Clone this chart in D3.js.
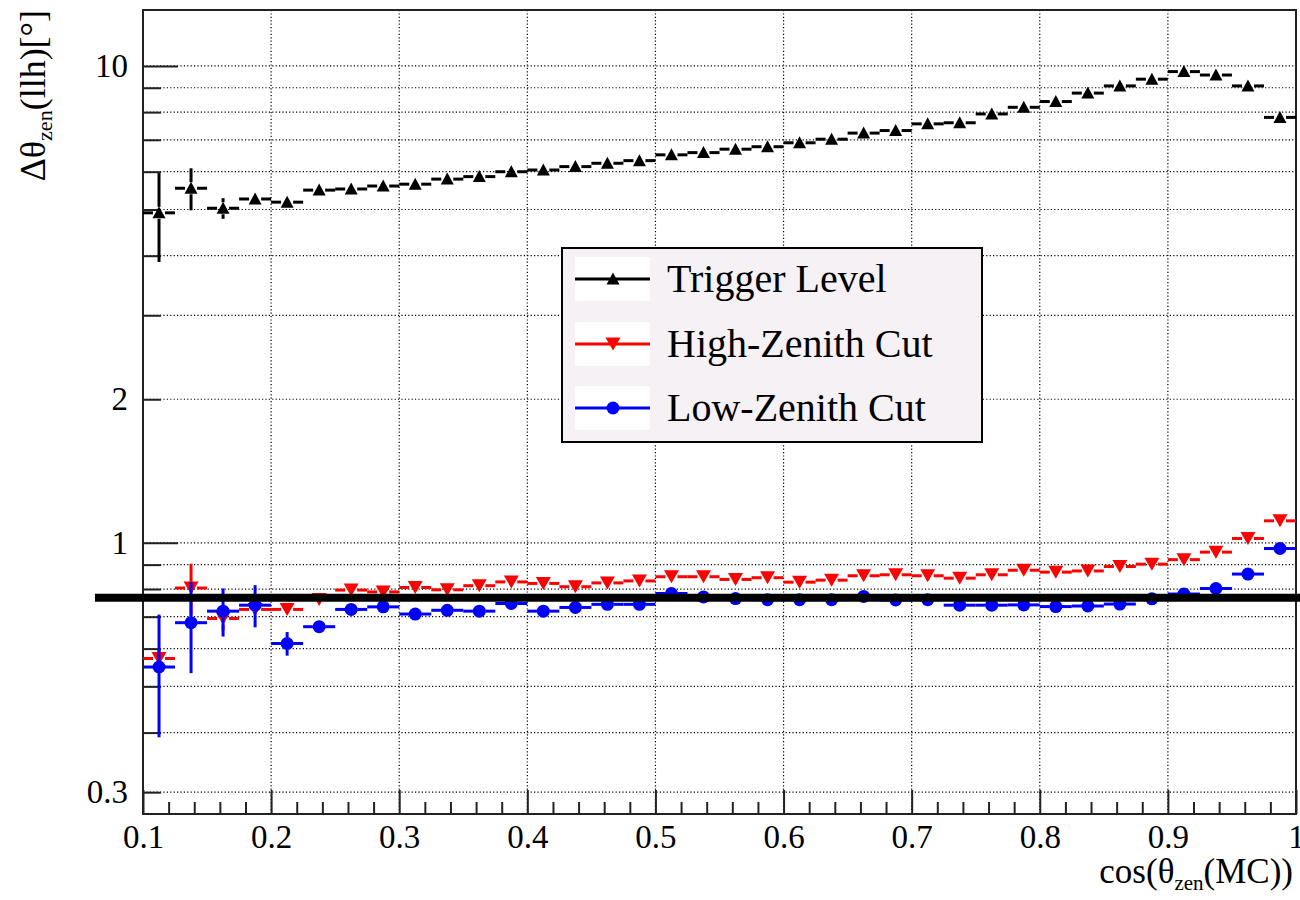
<!DOCTYPE html>
<html>
<head>
<meta charset="utf-8">
<script src="https://cdn.jsdelivr.net/npm/d3@7"></script>
<style>
  body { margin: 0; background: #fff; }
  svg text { font-family: "Liberation Serif", "Times New Roman", Times, Tinos, "Nimbus Roman", "DejaVu Serif", "Noto Serif", serif; }
</style>
</head>
<body>
<svg id="chart" width="1300" height="900"></svg>
<script>
// bin centres of cos(theta_zen(MC)), bins of width 0.025
var binCenters = [0.1125, 0.1375, 0.1625, 0.1875, 0.2125, 0.2375, 0.2625, 0.2875, 0.3125, 0.3375,
   0.3625, 0.3875, 0.4125, 0.4375, 0.4625, 0.4875, 0.5125, 0.5375, 0.5625, 0.5875,
   0.6125, 0.6375, 0.6625, 0.6875, 0.7125, 0.7375, 0.7625, 0.7875, 0.8125, 0.8375,
   0.8625, 0.8875, 0.9125, 0.9375, 0.9625, 0.9875]
var binHalfWidth = 0.0125

var triggerLevel = [4.92, 5.54, 5.03, 5.26, 5.18, 5.49, 5.52, 5.60, 5.65, 5.79,
   5.86, 6.00, 6.05, 6.15, 6.25, 6.33, 6.51, 6.58, 6.69, 6.77,
   6.90, 7.02, 7.23, 7.32, 7.56, 7.60, 7.93, 8.19, 8.42, 8.77,
   9.08, 9.38, 9.73, 9.57, 9.08, 7.80]
var triggerErr = [1.04, 0.56, 0.25, 0.12, 0.10, 0.08, 0.08, 0.07, 0.07, 0.06,
   0.06, 0.06, 0.06, 0.06, 0.06, 0.06, 0.06, 0.06, 0.06, 0.06,
   0.06, 0.06, 0.06, 0.06, 0.06, 0.06, 0.06, 0.06, 0.06, 0.06,
   0.06, 0.06, 0.06, 0.06, 0.06, 0.06]

var highZenith = [0.572, 0.804, 0.694, 0.725, 0.725, 0.761, 0.796, 0.789, 0.806, 0.797,
   0.813, 0.828, 0.822, 0.809, 0.824, 0.832, 0.849, 0.849, 0.838, 0.845,
   0.827, 0.835, 0.853, 0.857, 0.853, 0.843, 0.857, 0.876, 0.868, 0.873,
   0.892, 0.902, 0.922, 0.956, 1.021, 1.112]
var highZenithErr = [0.03, 0.10, 0.04, 0.02, 0.02, 0.02, 0.01, 0.01, 0.01, 0.01,
   0.01, 0.01, 0.01, 0.01, 0.01, 0.01, 0.01, 0.01, 0.01, 0.01,
   0.01, 0.01, 0.01, 0.01, 0.01, 0.01, 0.01, 0.01, 0.01, 0.01,
   0.01, 0.01, 0.01, 0.01, 0.01, 0.01]

var lowZenith = [0.549, 0.680, 0.719, 0.740, 0.615, 0.667, 0.725, 0.734, 0.709, 0.722,
   0.719, 0.746, 0.719, 0.732, 0.743, 0.743, 0.783, 0.770, 0.764, 0.760,
   0.760, 0.760, 0.772, 0.759, 0.760, 0.740, 0.740, 0.741, 0.735, 0.737,
   0.744, 0.763, 0.781, 0.802, 0.860, 0.973]
var lowZenithErr = [0.158, 0.147, 0.083, 0.075, 0.035, 0.02, 0.01, 0.01, 0.01, 0.01,
   0.01, 0.01, 0.01, 0.01, 0.01, 0.01, 0.01, 0.01, 0.01, 0.01,
   0.01, 0.01, 0.01, 0.01, 0.01, 0.01, 0.01, 0.01, 0.01, 0.01,
   0.01, 0.01, 0.01, 0.01, 0.01, 0.01]

// the thick horizontal reference line
var refLevel = 0.767
var refLineRange = [0.0625, 1.004]

var seriesNames = ["Trigger Level", "High-Zenith Cut", "Low-Zenith Cut"]
var seriesColors = ["#000000", "#ff0000", "#0000ff"]
var seriesMarkers = ["triUp", "triDown", "circle"]

var xMajorTicks = [0.1, 0.2, 0.3, 0.4, 0.5, 0.6, 0.7, 0.8, 0.9, 1]
var xMinorTicks = d3.range(0.12, 1.0, 0.02).filter(v => Math.abs(v * 10 - Math.round(v * 10)) > 1e-6)
var yMajorTicks = [1, 10]
var yMinorTicks = [0.3, 0.4, 0.5, 0.6, 0.7, 0.8, 0.9, 2, 3, 4, 5, 6, 7, 8, 9]
var yLabelled = [0.3, 1, 2, 10]

var serif = "'Liberation Serif', 'Times New Roman', Times, Tinos, 'Nimbus Roman', 'DejaVu Serif', 'Noto Serif', serif"
var frame = {left: 143, right: 1296, top: 10, bottom: 814}
var svg = d3.select("#chart")

var xScale = d3.scaleLinear().domain([0.1, 1]).range([frame.left, frame.right])
var yScale = d3.scaleLog().domain([0.27, 13.1]).range([frame.bottom, frame.top])

// grid
var grid = svg.append("g")
   .attr("stroke", "#000")
   .attr("stroke-width", 1.2)
   .attr("stroke-dasharray", "1.2,2.2")
grid.selectAll(".gx")
   .data(xMajorTicks.slice(1, -1))
   .join("line")
   .attr("x1", d => xScale(d)).attr("x2", d => xScale(d))
   .attr("y1", frame.top).attr("y2", frame.bottom)
grid.selectAll(".gy")
   .data(yMajorTicks.concat(yMinorTicks))
   .join("line")
   .attr("y1", d => yScale(d)).attr("y2", d => yScale(d))
   .attr("x1", frame.left).attr("x2", frame.right)

// axes
function styleAxis(g) {
   g.attr("font-family", serif)
   g.select(".domain").remove()
   g.selectAll(".tick line").attr("stroke", "#222").attr("stroke-width", 2)
   g.selectAll(".tick text").attr("fill", "#000").attr("font-size", 33)
}

svg.append("g")
   .attr("transform", "translate(0," + frame.bottom + ")")
   .call(d3.axisBottom(xScale).tickValues(xMajorTicks).tickSize(-24).tickPadding(11)
      .tickFormat(d => d === 1 ? "1" : d3.format(".1f")(d)))
   .call(styleAxis)
svg.append("g")
   .attr("transform", "translate(0," + frame.bottom + ")")
   .call(d3.axisBottom(xScale).tickValues(xMinorTicks).tickSize(-12).tickFormat(""))
   .call(styleAxis)

svg.append("g")
   .attr("transform", "translate(" + frame.left + ",0)")
   .call(d3.axisLeft(yScale).tickValues(yMajorTicks).tickSize(-35).tickPadding(15)
      .tickFormat(d => yLabelled.includes(d) ? String(d) : ""))
   .call(styleAxis)
svg.append("g")
   .attr("transform", "translate(" + frame.left + ",0)")
   .call(d3.axisLeft(yScale).tickValues(yMinorTicks).tickSize(-18).tickPadding(15)
      .tickFormat(d => yLabelled.includes(d) ? String(d) : ""))
   .call(styleAxis)

// frame
svg.append("rect")
   .attr("x", frame.left).attr("y", frame.top)
   .attr("width", frame.right - frame.left).attr("height", frame.bottom - frame.top)
   .attr("fill", "none").attr("stroke", "#222").attr("stroke-width", 2)

// axis titles
var xTitle = svg.append("text")
   .attr("x", 1293).attr("y", 883)
   .attr("text-anchor", "end")
   .attr("font-family", serif)
   .attr("font-size", 35)
xTitle.append("tspan").text("cos(θ")
xTitle.append("tspan").attr("font-size", 21).attr("dy", 7).text("zen")
xTitle.append("tspan").attr("dy", -7).text("(MC))")

var yTitle = svg.append("text")
   .attr("transform", "translate(45,10) rotate(-90)")
   .attr("text-anchor", "end")
   .attr("font-family", serif)
   .attr("font-size", 36)
yTitle.append("tspan").text("Δθ")
yTitle.append("tspan").attr("font-size", 22).attr("dy", 7).text("zen")
yTitle.append("tspan").attr("dy", -7).text("(llh)[°]")

// markers
function markerPath(kind) {
   if (kind === "triUp") return "M-6.5,5.5 L6.5,5.5 L0,-6.5 Z"
   if (kind === "triDown") return "M-7.5,-6.5 L7.5,-6.5 L0,6.5 Z"
   return d3.symbol(d3.symbolCircle, Math.PI * 6.5 * 6.5)()
}

var allSeries = [
   {values: triggerLevel, errors: triggerErr},
   {values: highZenith, errors: highZenithErr},
   {values: lowZenith, errors: lowZenithErr}
]

var gap = 6
allSeries.forEach(function(s, k) {
   var pts = binCenters.map((c, i) => ({c: c, v: s.values[i], e: s.errors[i]}))
   var g = svg.append("g")
      .attr("stroke", seriesColors[k])
      .attr("fill", seriesColors[k])
   var segs = []
   pts.forEach(function(p) {
      var px = xScale(p.c), py = yScale(p.v)
      segs.push([xScale(p.c - binHalfWidth), py, px - gap, py])
      segs.push([px + gap, py, xScale(p.c + binHalfWidth), py])
      var top = yScale(p.v + p.e), bot = yScale(p.v - p.e)
      if (top < py - gap) segs.push([px, py - gap, px, top])
      if (bot > py + gap) segs.push([px, py + gap, px, bot])
   })
   g.selectAll("line")
      .data(segs)
      .join("line")
      .attr("x1", d => d[0]).attr("y1", d => d[1])
      .attr("x2", d => d[2]).attr("y2", d => d[3])
      .attr("stroke-width", 3)
   g.selectAll("path")
      .data(pts)
      .join("path")
      .attr("d", markerPath(seriesMarkers[k]))
      .attr("stroke", "none")
      .attr("transform", d => "translate(" + xScale(d.c) + "," + yScale(d.v) + ")")
})

// legend
var legend = svg.append("g")
legend.append("rect")
   .attr("x", 562).attr("y", 248).attr("width", 420).attr("height", 194)
   .attr("fill", "#f5f1f5").attr("stroke", "#000").attr("stroke-width", 2)
var rowY = [279, 344, 408]
seriesNames.forEach(function(name, k) {
   legend.append("rect")
      .attr("x", 575).attr("y", rowY[k] - 22).attr("width", 75).attr("height", 44)
      .attr("fill", "#fff")
   legend.append("line")
      .attr("x1", 575).attr("x2", 650).attr("y1", rowY[k]).attr("y2", rowY[k])
      .attr("stroke", seriesColors[k]).attr("stroke-width", 3)
   legend.append("path")
      .attr("d", markerPath(seriesMarkers[k]))
      .attr("fill", seriesColors[k])
      .attr("transform", "translate(613," + rowY[k] + ")")
   legend.append("text")
      .attr("x", 667).attr("y", rowY[k] + 13)
      .attr("font-family", serif)
      .attr("font-size", 40)
      .text(name)
})

// thick reference line
svg.append("line")
   .attr("x1", xScale(refLineRange[0])).attr("x2", xScale(refLineRange[1]))
   .attr("y1", yScale(refLevel)).attr("y2", yScale(refLevel))
   .attr("stroke", "#000").attr("stroke-width", 8)
</script>
</body>
</html>
